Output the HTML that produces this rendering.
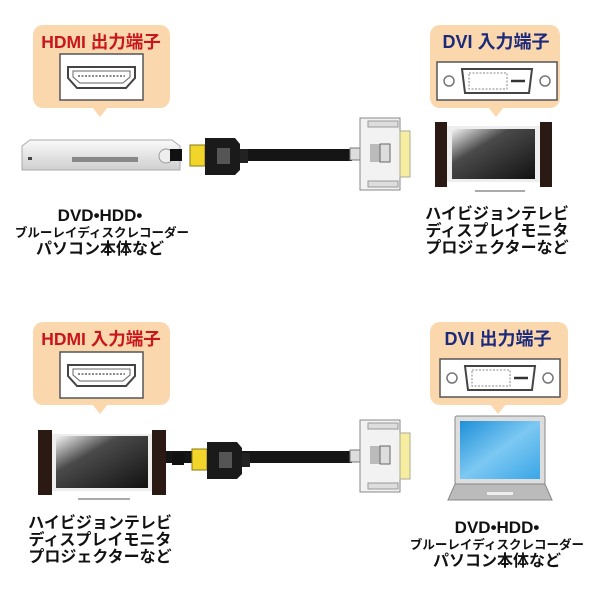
<!DOCTYPE html>
<html><head><meta charset="utf-8"><style>
html,body{margin:0;padding:0;background:#fff}
svg{display:block}
text{font-family:"Liberation Sans","Noto Sans CJK JP",sans-serif;font-weight:bold}
</style></head><body>
<svg width="600" height="600" viewBox="0 0 600 600" xmlns="http://www.w3.org/2000/svg">
<defs>
<linearGradient id="tv" x1="0" y1="0" x2="1" y2="1"><stop offset="0" stop-color="#f4f4f4"/><stop offset="0.35" stop-color="#4a4a4a"/><stop offset="1" stop-color="#111"/></linearGradient>
<linearGradient id="lap" x1="0" y1="0" x2="1" y2="1"><stop offset="0" stop-color="#1f8fd8"/><stop offset="0.5" stop-color="#7cc8f2"/><stop offset="1" stop-color="#3aa6e6"/></linearGradient>
<linearGradient id="dvd" x1="0" y1="0" x2="0" y2="1"><stop offset="0" stop-color="#fafafa"/><stop offset="1" stop-color="#cfcfcf"/></linearGradient>
<g id="hdmiport">
<rect x="0" y="0" width="83" height="46" fill="#fff" stroke="#555" stroke-width="1.5"/>
<path d="M8 13 L75 13 L75 24 L66 34 L17 34 L8 24 Z" fill="#fff" stroke="#444" stroke-width="2"/>
<path d="M13 17 L70 17 L70 23 L63 29 L20 29 L13 23 Z" fill="none" stroke="#666" stroke-width="1"/>
<line x1="18" y1="22" x2="65" y2="22" stroke="#888" stroke-width="2" stroke-dasharray="2 1.5"/>
</g>
<g id="dviport">
<rect x="0" y="0" width="120" height="38" fill="#fff" stroke="#555" stroke-width="1.5"/>
<circle cx="12" cy="19" r="5" fill="none" stroke="#777" stroke-width="1.5"/>
<circle cx="108" cy="19" r="5" fill="none" stroke="#777" stroke-width="1.5"/>
<path d="M25 7 L95 7 L92 31 L28 31 Z" fill="#fff" stroke="#444" stroke-width="2"/>
<rect x="32" y="11" width="38" height="16" fill="none" stroke="#888" stroke-width="1" stroke-dasharray="2 1.5"/>
<line x1="74" y1="19" x2="88" y2="19" stroke="#333" stroke-width="2.5"/>
</g>
<g id="hdmiplug">
<rect x="-20" y="7" width="12" height="12" fill="#111"/>
<rect x="0" y="3" width="15" height="21" fill="#f2d52a" stroke="#8a7a10" stroke-width="1"/>
<path d="M15 -4 L45 -4 L50 2 L50 28 L45 33 L15 33 Z" fill="#1a1a1a"/>
<rect x="27" y="6" width="13" height="16" fill="#555"/>
<rect x="50" y="7" width="8" height="14" fill="#222"/>
</g>
<g id="dviplug">
<rect x="0" y="12" width="10" height="12" fill="#ddd" stroke="#777"/>
<rect x="10" y="-18" width="40" height="72" fill="#f2f2f2" stroke="#888"/>
<rect x="18" y="-15" width="30" height="6" fill="#ddd" stroke="#999"/>
<rect x="18" y="45" width="30" height="6" fill="#ddd" stroke="#999"/>
<rect x="20" y="8" width="10" height="18" fill="#bbb"/>
<rect x="30" y="8" width="10" height="18" fill="#ddd" stroke="#666"/>
<rect x="50" y="-5" width="10" height="46" fill="#f6eda0" stroke="#aa9"/>
</g>
</defs>

<rect x="33" y="25" width="137" height="83" rx="10" fill="#fbd7ae"/>
<polygon points="92,107 108,107 100,117" fill="#fbd7ae"/>
<text x="101" y="48" text-anchor="middle" font-size="17.5" fill="#c8161d">HDMI 出力端子</text>
<use href="#hdmiport" x="60" y="54"/>

<rect x="430" y="25" width="130" height="83" rx="10" fill="#fbd7ae"/>
<polygon points="488,107 504,107 496,117" fill="#fbd7ae"/>
<text x="496" y="48" text-anchor="middle" font-size="18" fill="#1c2a7a">DVI 入力端子</text>
<use href="#dviport" x="437" y="62"/>

<path d="M30 140 L172 140 L180 146 L180 170 L22 170 L22 146 Z" fill="url(#dvd)" stroke="#aaa"/>
<rect x="72" y="157" width="66" height="5" fill="#888"/>
<circle cx="166" cy="156" r="7" fill="#eee" stroke="#999"/>
<rect x="28" y="157" width="4" height="3" fill="#444"/>
<rect x="240" y="149" width="112" height="12" fill="#151515"/>
<use href="#hdmiplug" x="190" y="142"/>
<use href="#dviplug" x="350" y="136"/>

<rect x="435" y="122" width="12" height="65" fill="#2b1a14"/>
<rect x="540" y="122" width="12" height="65" fill="#2b1a14"/>
<rect x="447" y="126" width="93" height="56" fill="#eee"/>
<rect x="452" y="129" width="83" height="50" fill="url(#tv)"/>
<line x1="475" y1="191" x2="525" y2="191" stroke="#aaa" stroke-width="2"/>

<g text-anchor="middle" fill="#111">
<text x="100" y="221" font-size="17">DVD•HDD•</text>
<text x="102" y="237" font-size="12.5">ブルーレイディスクレコーダー</text>
<text x="100" y="254" font-size="16">パソコン本体など</text>
<text x="497" y="219" font-size="16">ハイビジョンテレビ</text>
<text x="497" y="236" font-size="16">ディスプレイモニタ</text>
<text x="497" y="253" font-size="16">プロジェクターなど</text>
</g>

<rect x="33" y="322" width="137" height="83" rx="10" fill="#fbd7ae"/>
<polygon points="92,404 108,404 100,414" fill="#fbd7ae"/>
<text x="101" y="345" text-anchor="middle" font-size="17.5" fill="#c8161d">HDMI 入力端子</text>
<use href="#hdmiport" x="60" y="352"/>

<rect x="430" y="322" width="138" height="83" rx="10" fill="#fbd7ae"/>
<polygon points="490,404 506,404 498,414" fill="#fbd7ae"/>
<text x="498" y="345" text-anchor="middle" font-size="18" fill="#1c2a7a">DVI 出力端子</text>
<use href="#dviport" x="440" y="359"/>

<rect x="38" y="430" width="14" height="65" fill="#2b1a14"/>
<rect x="152" y="430" width="14" height="65" fill="#2b1a14"/>
<rect x="52" y="434" width="100" height="57" fill="#eee"/>
<rect x="56" y="436" width="92" height="52" fill="url(#tv)"/>
<line x1="78" y1="499" x2="130" y2="499" stroke="#aaa" stroke-width="2"/>
<rect x="166" y="451" width="186" height="12" fill="#151515"/>
<use href="#hdmiplug" x="192" y="446"/>
<use href="#dviplug" x="350" y="438"/>

<rect x="455" y="416" width="90" height="68" rx="2" fill="#ddd" stroke="#888"/>
<rect x="460" y="421" width="80" height="58" fill="url(#lap)"/>
<path d="M455 484 L545 484 L552 500 L448 500 Z" fill="#bbb" stroke="#888"/>
<rect x="487" y="492" width="26" height="3" fill="#eee"/>

<g text-anchor="middle" fill="#111">
<text x="100" y="528" font-size="16">ハイビジョンテレビ</text>
<text x="100" y="545" font-size="16">ディスプレイモニタ</text>
<text x="100" y="562" font-size="16">プロジェクターなど</text>
<text x="497" y="533" font-size="17">DVD•HDD•</text>
<text x="497" y="549" font-size="12.5">ブルーレイディスクレコーダー</text>
<text x="497" y="566" font-size="16">パソコン本体など</text>
</g>
</svg>
</body></html>
